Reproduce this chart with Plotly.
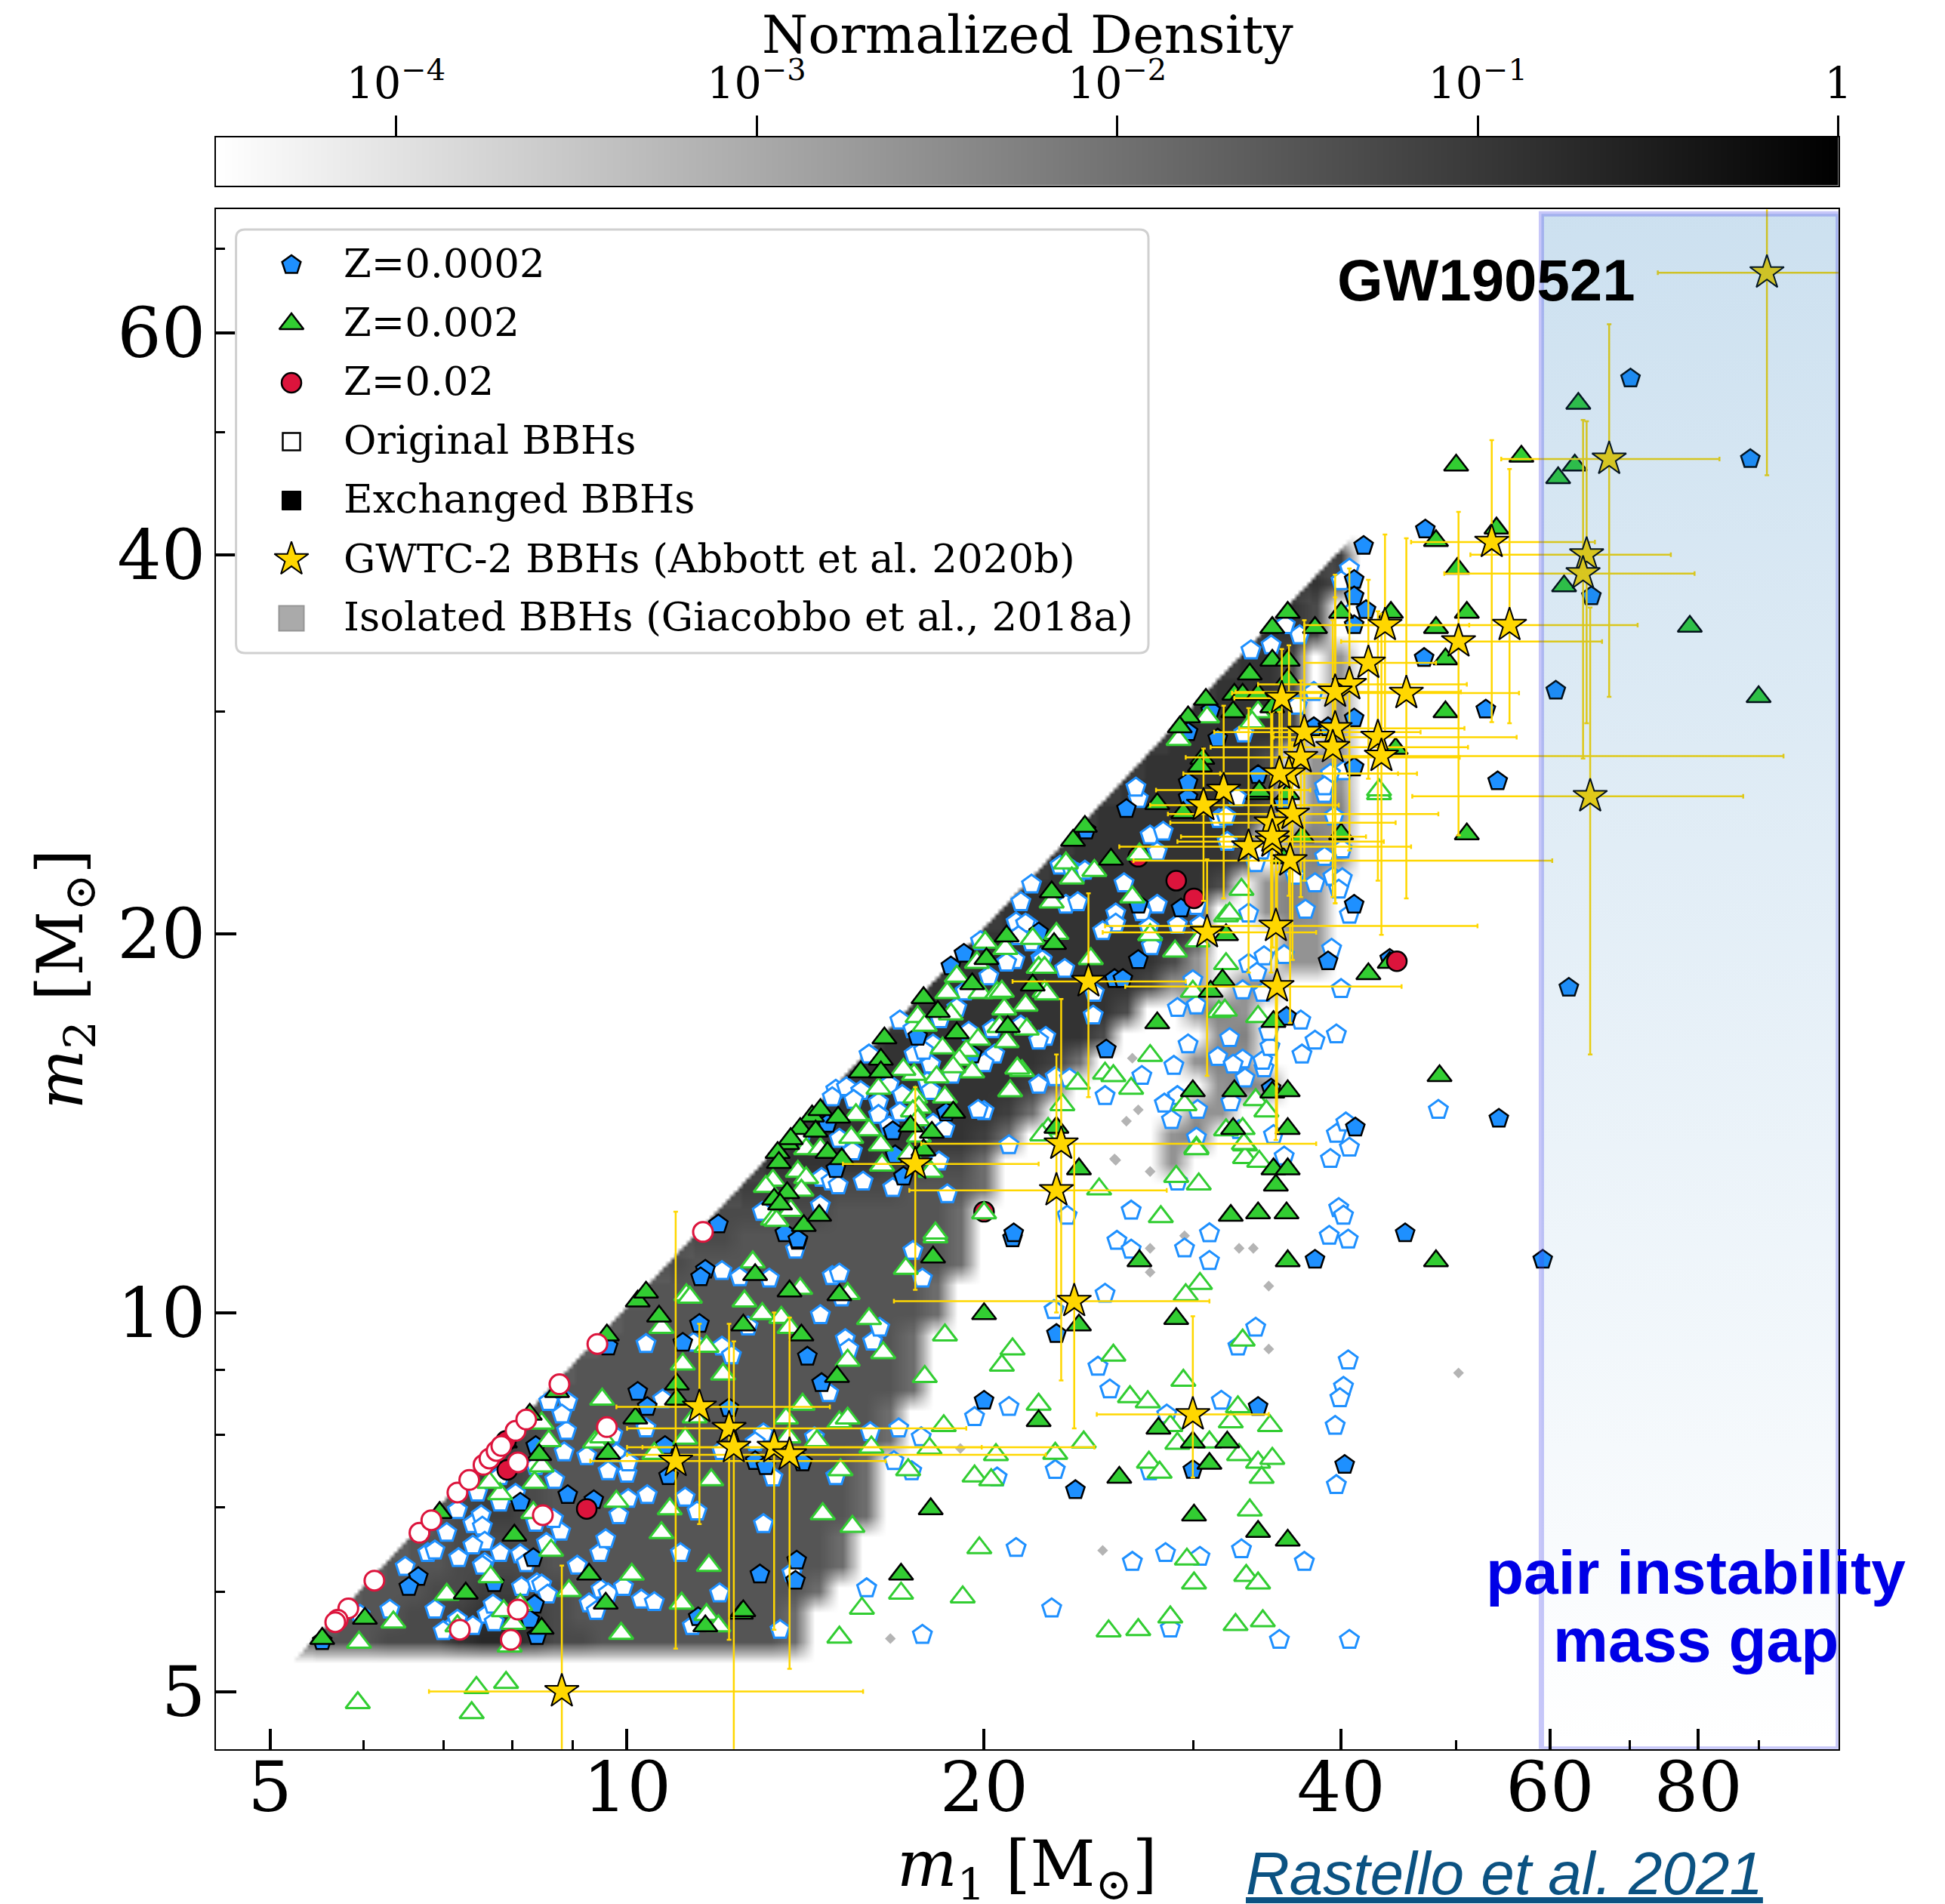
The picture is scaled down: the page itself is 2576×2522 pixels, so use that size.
import math
import numpy as np
import plotly.graph_objects as go

W, H = 2576, 2522
OFFSET = 8  # the page's own body margin
AX_L, AX_R, AX_T, AX_B = 285.7, 2434.7, 277.4, 2316.8
CB_T, CB_B = 181.8, 245.5

# All masses below are log10(mass / Msun): (log m1, log m2)
z0002_exchanged = [(.824,.790),(.816,.782),(.743,.739),(.984,.973),(1.066,1.034),(1.062,1.028),(1.061,.991),(1.047,.976),(1.009,.937),(1.017,.925),(1.032,.894),(1.035,.870),(.950,.855),(.972,.851),(.910,.849),(.921,.805),(.888,.785),(.922,.768),(.918,.756),(.924,.743),(.923,.894),(1.060,.758),(1.086,.924),
(1.144,1.057),(1.152,.965),(1.164,.944),(1.108,.882),(1.117,.878),(1.148,.881),(1.143,.803),(1.112,.792),(1.142,.787),(1.301,.930),(1.362,.983),(1.378,.859),(1.325,1.059),
(1.532,.925),(1.605,.879),(1.477,.875),(1.326,1.063),(1.580,1.042),(1.656,1.063),(1.772,1.042),
(1.421,1.400),(1.387,1.383),(1.473,1.409),(1.553,1.405),(1.431,1.324),(1.467,1.321),(1.347,1.302),(1.431,1.280),(1.411,1.265),(1.418,1.265),(1.404,1.209),(1.556,1.235),(1.591,1.279),(1.613,1.324),(1.543,1.178),(1.614,1.147),(1.643,1.281),
(1.284,1.285),(1.273,1.275),(1.245,1.219),(1.291,1.205),(1.169,1.150),(1.224,1.144),(1.269,1.159),(1.226,1.125),(1.176,1.114),(1.233,1.108),(1.133,1.063),(1.144,1.058),(1.077,1.070),
(1.621,1.609),(1.613,1.582),(1.613,1.569),(1.623,1.558),(1.613,1.546),(1.672,1.520),(1.579,1.465),(1.591,1.465),(1.613,1.472),(1.613,1.433),(1.532,1.427),(1.473,1.421),(1.498,1.456),(1.473,1.461),(1.492,1.478),(1.673,1.622),
(1.846,1.742),(1.947,1.678),(1.813,1.569),(1.783,1.494),(1.724,1.479),(1.735,1.154),(1.794,1.258),(1.734,1.422)]

z0002_original = [(.775,.760),(.800,.764),(.813,.798),(.832,.809),(.838,.811),(.848,.825),(.858,.805),(.857,.843),(.870,.832),(.877,.839),(.878,.830),(.880,.818),(.870,.815),(.893,.809),(.910,.808),(.915,.801),(.880,.801),(.878,.799),(.838,.764),(.849,.748),(.845,.747),(.857,.756),(.870,.751),(.882,.760),(.887,.768),(.888,.754),(.911,.782),(.924,.785),(.928,.784),(.933,.776),(.932,.817),(.944,.826),(.938,.836),(.923,.833),(.958,.799),(.977,.809),(.982,.820),(.968,.769),(.974,.763),(.978,.780),(.984,.777),(.997,.782),(1.012,.772),(1.023,.770),(.993,.839),(1.001,.852),(1.017,.855),(1.049,.853),(1.045,.809),(1.059,.842),(1.078,.777),(1.055,.751),(.984,.874),(1.000,.872),(.991,.888),(.988,.903),(.966,.886),(.947,.889),(.949,.906),(.939,.867),(.906,.856),(.893,.849),(.893,.870),(.934,.929),(.950,.929),(.945,.919),(1.030,.931),(1.016,.908),(1.080,1.033),(1.016,.975),(1.056,.976),(1.080,.973),(1.088,.966),(1.001,.881),(.923,.878),(.874,.857),
(1.095,1.028),(1.120,1.027),(1.173,1.029),(1.179,1.031),(1.241,1.049),(1.249,1.027),(1.142,1.050),(1.163,.998),(1.102,.989),(1.184,.979),(1.187,.971),(1.207,.977),(1.213,.988),(1.181,1.012),(1.170,.936),(1.115,.904),(1.108,.897),(1.158,.901),(1.205,.905),(1.229,.908),(1.248,.901),(1.225,.882),(1.240,.874),(1.176,.870),(1.123,.869),(1.080,.890),(1.115,.832),(1.139,.793),(1.202,.781),(1.249,.744),(1.129,.748),(1.328,.813),(1.358,.765),(1.426,.802),(1.454,.809),(1.312,.869),(1.361,.875),(1.441,.874),(1.293,.917),(1.322,.925),(1.407,.939),(1.397,.957),(1.403,1.015),(1.360,1.002),(1.413,1.057),(1.425,1.050),(1.455,.919),(1.458,.749),
(1.491,1.041),(1.530,.988),(1.515,.973),(1.501,.930),(1.608,.962),(1.604,.941),(1.601,.932),(1.597,.910),(1.598,.863),(1.483,.806),(1.518,.812),(1.571,.802),(1.550,.740),(1.609,.740),(1.470,1.051),(1.491,1.063),(1.600,1.083),(1.604,1.077),(1.592,1.061),(1.608,1.058),(1.554,1.124),(1.593,1.122),(1.609,1.131),(1.464,1.104),(1.425,1.081),(1.371,1.077),(1.322,1.133),(1.270,1.094),
(1.431,1.408),(1.441,1.379),(1.452,1.382),(1.447,1.366),(1.341,1.340),(1.365,1.355),(1.375,1.352),(1.380,1.349),(1.386,1.351),(1.419,1.341),(1.370,1.324),(1.380,1.326),(1.412,1.317),(1.412,1.309),(1.401,1.303),(1.434,1.318),(1.447,1.324),(1.440,1.306),(1.443,1.295),(1.442,1.291),(1.464,1.308),(1.480,1.323),(1.483,1.308),(1.332,1.326),(1.334,1.307),(1.338,1.308),(1.341,1.294),(1.349,1.281),(1.369,1.273),(1.394,1.254),(1.393,1.236),(1.353,1.219),(1.347,1.216),(1.361,1.187),(1.347,1.181),(1.373,1.186),(1.403,1.172),(1.434,1.188),(1.461,1.196),(1.464,1.242),(1.480,1.244),(1.477,1.264),(1.473,1.213),(1.498,1.203),(1.519,1.201),(1.511,1.197),(1.521,1.186),(1.537,1.194),(1.536,1.200),(1.542,1.211),(1.541,1.223),(1.508,1.218),(1.568,1.232),(1.569,1.205),(1.580,1.216),(1.598,1.221),(1.481,1.161),(1.464,1.172),(1.453,1.166),(1.459,1.153),(1.509,1.167),(1.480,1.139),(1.545,1.141),(1.516,1.145),(1.598,1.142),(1.606,1.151),(1.594,1.289),(1.602,1.257),(1.609,1.316),(1.595,1.346),(1.603,1.345),(1.600,1.336),(1.580,1.341),(1.572,1.320),(1.524,1.317),(1.519,1.256),(1.536,1.254),(1.524,1.277),(1.537,1.283),(1.531,1.270),(1.554,1.284),(1.588,1.362),(1.596,1.394),(1.506,1.374),(1.499,1.392),(1.505,1.394),(1.530,1.357),(1.603,1.368),(1.588,1.412),(1.514,1.409),(1.563,1.347),(1.535,1.367),
(1.298,1.295),(1.328,1.310),(1.336,1.309),(1.330,1.299),(1.327,1.280),(1.320,1.278),(1.350,1.280),(1.305,1.267),(1.285,1.255),(1.278,1.242),(1.264,1.233),(1.230,1.232),(1.241,1.225),(1.258,1.213),(1.332,1.228),(1.308,1.225),(1.310,1.205),(1.301,1.198),(1.288,1.223),(1.242,1.205),(1.256,1.197),(1.274,1.189),(1.250,1.208),(1.204,1.205),(1.221,1.181),(1.232,1.173),(1.253,1.183),(1.256,1.176),(1.176,1.177),(1.173,1.171),(1.185,1.179),(1.197,1.176),(1.191,1.169),(1.212,1.167),(1.212,1.157),(1.230,1.159),(1.258,1.150),(1.268,1.146),(1.221,1.148),(1.179,1.138),(1.190,1.128),(1.147,1.140),(1.263,1.120),(1.164,1.107),(1.172,1.104),(1.178,1.101),(1.199,1.104),(1.224,1.099),(1.114,1.080),(1.163,1.085),(1.301,1.160),(1.296,1.161),
(1.609,1.591),(1.602,1.581),(1.612,1.557),(1.567,1.538),(1.555,1.546),(1.543,1.530),(1.526,1.526),(1.429,1.417),(1.520,1.460),(1.579,1.493),(1.565,1.482),(1.604,1.430),(1.593,1.428),(1.588,1.418),(1.684,1.161)]

z002_exchanged = [(.743,.741),(.779,.757),(.842,.841),(.864,.777),(.968,.792),(.983,.982),(1.009,1.009),(1.016,1.016),(1.027,.997),(1.042,.943),(1.042,.931),(1.007,.916),(.941,.937),(.918,.919),(.897,.897),(.926,.887),(.984,.888),(.928,.749),(1.066,.751),(.982,.769),(.905,.823),(1.096,.761),
(1.108,1.030),(1.137,1.017),(1.179,1.014),(1.098,.990),(1.147,.982),(1.177,.949),(1.258,1.044),(1.432,1.041),(1.301,.999),(1.381,.990),(1.347,.914),(1.448,.908),(1.415,.869),(1.256,.844),(1.231,.792),(1.098,.763),
(1.477,.897),(1.491,.880),(1.506,.897),(1.478,.839),(1.532,.826),(1.557,.819),(1.463,.995),(1.509,1.077),(1.532,1.079),(1.556,1.079),(1.545,1.114),(1.557,1.114),(1.547,1.101),(1.557,1.041),(1.682,1.041),(1.381,1.114),
(1.386,1.386),(1.376,1.375),(1.408,1.360),(1.358,1.334),(1.360,1.293),(1.342,1.260),(1.447,1.404),(1.469,1.397),(1.532,1.412),(1.557,1.412),(1.505,1.300),(1.502,1.264),(1.492,1.255),(1.447,1.230),(1.477,1.176),(1.512,1.176),(1.544,1.175),(1.557,1.176),(1.511,1.146),(1.557,1.146),(1.362,1.147),(1.545,1.231),(1.625,1.269),(1.643,1.278),(1.569,1.378),(1.602,1.380),(1.553,1.361),
(1.250,1.250),(1.217,1.218),(1.197,1.191),(1.214,1.201),(1.214,1.191),(1.303,1.281),(1.320,1.299),(1.321,1.227),(1.278,1.222),(1.156,1.156),(1.163,1.161),(1.178,1.155),(1.146,1.146),(1.159,1.144),(1.135,1.134),(1.138,1.138),(1.127,1.127),(1.169,1.127),(1.181,1.122),(1.128,1.119),(1.135,1.095),(1.124,1.090),(1.129,1.086),(1.149,1.069),(1.162,1.077),(1.250,1.129),(1.239,1.148),(1.275,1.159),(1.257,1.143),(1.262,1.239),(1.291,1.261),
(1.557,1.556),(1.544,1.544),(1.580,1.544),(1.602,1.556),(1.644,1.556),(1.708,1.556),(1.682,1.544),(1.544,1.518),(1.557,1.518),(1.525,1.507),(1.512,1.491),(1.519,1.491),(1.532,1.491),(1.511,1.477),(1.557,1.503),(1.488,1.487),(1.473,1.473),(1.466,1.465),(1.485,1.440),(1.483,1.434),(1.533,1.414),(1.690,1.477),(1.690,1.519),(1.648,1.448),(1.682,1.613),(1.700,1.591),(1.708,1.380),(1.544,1.481),
(1.802,1.722),(1.699,1.673),(1.754,1.680),(1.799,1.673),(1.785,1.663),(1.733,1.623),(1.790,1.577),(1.896,1.545),(1.954,1.489),(1.685,1.188)]

z002_original = [(.774,.738),(.803,.754),(.848,.776),(.857,.751),(.885,.790),(.896,.763),(.904,.753),(.910,.768),(.901,.735),(1.004,.792),(.951,.779),(.995,.745),(1.029,.825),(1.036,.844),(.991,.850),(.893,.856),(.884,.865),(.922,.865),(.934,.898),(.928,.912),(.928,.878),(.973,.897),(.979,.931),(.979,.901),(1.029,.988),(1.050,1.014),(1.053,1.012),(1.047,.959),(1.067,.973),(1.081,.951),(1.049,.900),(1.023,.888),(1.071,.867),(1.069,.799),(1.046,.769),(1.067,.760),(1.077,.751),(.921,.841),(.936,.811),(1.057,.917),(.773,.690),(.873,.702),(.898,.706),(.869,.682),
(1.106,1.040),(1.099,1.009),(1.114,.999),(1.130,.996),(1.146,1.019),(1.137,.988),(1.186,1.015),(1.204,.995),(1.186,.962),(1.216,.968),(1.235,1.035),(1.260,1.060),(1.268,.982),(1.251,.949),(1.148,.927),(1.134,.916),(1.136,.901),(1.160,.898),(1.179,.913),(1.186,.916),(1.206,.893),(1.255,.892),(1.267,.910),(1.180,.875),(1.237,.875),(1.325,.971),(1.316,.958),(1.347,.927),(1.410,.966),(1.424,.933),(1.439,.929),(1.385,.897),(1.311,.887),(1.361,.888),(1.293,.870),(1.307,.867),(1.440,.881),(1.449,.873),(1.165,.840),(1.190,.830),(1.297,.813),(1.231,.777),(1.283,.774),(1.198,.765),(1.179,.742),(1.406,.747),(1.431,.748),(1.458,.758),(1.458,.910),
(1.483,1.023),(1.471,1.014),(1.519,.978),(1.469,.946),(1.515,.925),(1.509,.913),(1.542,.910),(1.516,.887),(1.491,.897),(1.464,.896),(1.532,.881),(1.544,.884),(1.535,.869),(1.525,.843),(1.472,.804),(1.478,.785),(1.522,.791),(1.532,.785),(1.513,.752),(1.536,.755),(1.480,1.131),(1.521,1.133),(1.521,1.123),(1.533,1.120),(1.482,1.102),(1.463,1.108),(1.450,1.076),(1.398,1.098),(1.301,1.079),(1.260,1.063),
(1.370,1.357),(1.394,1.351),(1.375,1.345),(1.432,1.364),(1.518,1.336),(1.505,1.315),(1.508,1.317),(1.426,1.330),(1.358,1.326),(1.362,1.301),(1.441,1.300),(1.462,1.287),(1.391,1.281),(1.342,1.297),(1.347,1.274),(1.352,1.274),(1.352,1.255),(1.354,1.253),(1.336,1.244),(1.481,1.295),(1.505,1.277),(1.477,1.255),(1.499,1.239),(1.504,1.240),(1.532,1.235),(1.337,1.225),(1.333,1.192),(1.380,1.182),(1.403,1.190),(1.410,1.188),(1.425,1.178),(1.441,1.204),(1.367,1.165),(1.355,1.146),(1.350,1.141),(1.470,1.165),(1.530,1.169),(1.539,1.160),(1.480,1.130),(1.520,1.134),(1.505,1.145),(1.519,1.146),(1.634,1.412),
(1.302,1.294),(1.319,1.289),(1.295,1.278),(1.278,1.267),(1.270,1.254),(1.298,1.254),(1.312,1.254),(1.316,1.255),(1.318,1.241),(1.273,1.237),(1.245,1.235),(1.251,1.228),(1.314,1.227),(1.320,1.215),(1.296,1.217),(1.266,1.210),(1.286,1.208),(1.280,1.201),(1.329,1.194),(1.323,1.176),(1.291,1.191),(1.275,1.195),(1.242,1.189),(1.261,1.187),(1.233,1.193),(1.212,1.178),(1.243,1.171),(1.268,1.171),(1.246,1.163),(1.241,1.160),(1.245,1.153),(1.193,1.157),(1.204,1.145),(1.189,1.139),(1.214,1.133),(1.246,1.140),(1.238,1.126),(1.215,1.117),(1.256,1.112),(1.151,1.130),(1.163,1.130),(1.144,1.112),(1.151,1.107),(1.123,1.105),(1.147,1.097),(1.117,1.100),(1.138,1.081),(1.123,1.074),(1.126,1.073),
(1.465,1.455),(1.489,1.473),(1.532,1.477),(1.527,1.469),(1.634,1.415)]

z02_exchanged_under = [(1.431,1.362),(1.301,1.080)]
z02_exchanged = [(.899,.875),(.966,.844),(1.463,1.343),(1.478,1.329),(1.649,1.279),(.898,.898)]

z02_original = [(.787,.787),(.765,.765),(.756,.756),(.754,.754),(.825,.825),(.835,.835),(.857,.857),(.867,.867),(.879,.879),(.884,.884),(.890,.890),(.894,.894),(.906,.906),(.915,.915),(.943,.943),(.908,.881),(.975,.975),(.983,.909),(.929,.839),(.859,.748),(.902,.740),(.908,.764),(1.064,1.064)]

# GWTC-2 events: log m1, log m2, and the ends of their error bars
star_m1    = [1.961,1.828,1.729,1.809,1.806,1.812,1.639,1.744,1.701,1.625,1.609,1.597,1.657,1.552,1.571,1.597,1.633,1.595,1.636,1.568,1.558,1.550,1.503,1.486,1.561,1.543,1.524,1.544,1.544,1.559,1.547,1.489,1.548,1.389,1.366,1.362,1.243,1.377,1.477,1.061,1.086,1.090,1.124,1.137,1.041,.945]
star_m2    = [1.826,1.678,1.612,1.602,1.587,1.410,1.546,1.546,1.533,1.516,1.499,1.493,1.492,1.488,1.461,1.464,1.457,1.449,1.442,1.441,1.428,1.428,1.415,1.403,1.396,1.389,1.370,1.374,1.378,1.359,1.307,1.302,1.259,1.263,1.134,1.097,1.118,1.009,.919,.925,.908,.893,.893,.887,.882,.699]
star_m1_lo = [1.869,1.737,1.661,1.711,1.689,1.662,1.571,1.610,1.602,1.571,1.532,1.513,1.51,1.512,1.495,1.516,1.545,1.492,1.56,1.471,1.469,1.50,1.446,1.441,1.456,1.458,1.415,1.464,1.467,1.427,1.403,1.401,1.420,1.325,1.248,1.238,1.182,1.225,1.396,.991,1.000,1.000,1.013,1.000,.969,.833]
star_m1_hi = [2.03,1.921,1.816,1.880,1.900,1.941,1.710,1.852,1.822,1.682,1.708,1.703,1.752,1.606,1.669,1.706,1.75,1.709,1.975,1.702,1.666,1.65,1.576,1.60,1.684,1.648,1.661,1.638,1.623,1.78,1.717,1.581,1.653,1.471,1.581,1.455,1.347,1.491,1.541,1.171,1.286,1.299,1.394,1.353,1.218,1.199]
star_m2_lo = [1.665,1.489,1.469,1.468,1.44,1.205,1.46,1.468,1.379,1.424,1.367,1.325,1.329,1.38,1.343,1.325,1.343,1.33,1.30,1.33,1.331,1.35,1.329,1.327,1.28,1.27,1.27,1.29,1.29,1.23,1.137,1.188,1.143,1.171,.946,1.000,1.018,.908,.869,.832,.740,.64,.748,.717,.733,.64]
star_m2_hi = [1.90,1.785,1.693,1.708,1.709,1.56,1.618,1.670,1.636,1.582,1.591,1.586,1.615,1.527,1.550,1.568,1.557,1.55,1.555,1.502,1.530,1.477,1.482,1.448,1.453,1.477,1.480,1.477,1.46,1.48,1.38,1.36,1.35,1.333,1.249,1.205,1.179,1.134,.997,.991,.991,.977,1.000,.996,1.080,.799]

# Isolated-binary density. Row n+1 of the list starts on the m1=m2 diagonal; each digit indexes density_levels.
density_levels = [-4.5,-2.6,-2.3,-1.9,-1.5,-1.3,-1.1,-.9,-.7,-.5]
density_rows = [
"444555788755444444443","44455677654444444443","44455665544444444443","44455554444444444443","4455554444444444443",
"4566544444444444443","566544444444444443","66544444444444443","65444444444444443","5444444444444443",
"4444444444444443","444444444444443","44444444444443","44444444444443","4444444444443",
"5444444444443","554444444443","55555444443","66665554443","777776655300000001",
"777777776300000012","777777776300000011","7777777763000000121","77777777630000121","7777777775000012",
"777777777500121","777777777511011","7777777775100011","777777777500011","77777777500121",
"7777777750121","7777777750121","777777750121","77777775012","7777775011",
"777775011","77777501","7777501","777501","77501",
"775","75","75","6"]
speck_log_m1 = [1.441,1.441,1.401,1.281,1.222,1.411,1.441,1.470,1.516,1.528,1.541,1.541,1.701,1.426,1.431,1.421,1.412]
speck_log_m2 = [1.051,1.032,.811,.892,.741,1.122,1.112,1.061,1.051,1.051,1.021,.971,.952,1.202,1.161,1.152,1.121]

colorbar_ticks = [-4,-3,-2,-1,0]
colorbar_text = ["10<sup>\u22124</sup>","10<sup>\u22123</sup>","10<sup>\u22122</sup>","10<sup>\u22121</sup>","1"]
x_major = [5,10,20,40,60,80]; x_minor = [6,7,8,9,30,50,70,90]
y_major = [5,10,20,40,60];    y_minor = [6,7,8,9,30,50,70]
legend_labels = ["Z=0.0002","Z=0.002","Z=0.02","Original BBHs","Exchanged BBHs","GWTC-2 BBHs (Abbott et al. 2020b)","Isolated BBHs (Giacobbo et al., 2018a)"]
gap_m1 = [59,105]; gap_m2 = [4.5,74.6]

BLUE,GREEN,RED,GOLD = "#1E90FF","#32CD32","#DC143C","#FFD700"
SERIF = "DejaVu Serif"; SANS = "Liberation Sans"
GRAYS = [[0,"#ffffff"],[1,"#000000"]]

def ax_x(p): return (p-AX_L)/(AX_R-AX_L)
def ax_y(p): return (AX_B-p)/(AX_B-AX_T)
def pap_x(p): return (p-OFFSET)/W
def pap_y(p): return 1-(p-OFFSET)/H

# density matrix: digits on a 0.02 dex grid, split finer and softened so edges stay straight and blurred
SPLIT = 6
n = 46
empty = density_levels[0]
coarse = np.full((n,n),empty)
for r,row in enumerate(density_rows):
    i = r+1
    for k,ch in enumerate(row):
        if i+k < n: coarse[i,i+k] = density_levels[int(ch)]
fine = np.kron(coarse,np.ones((SPLIT,SPLIT)))
N = fine.shape[0]
fine_log = [.72+.02*(k+.5)/SPLIT-.01 for k in range(N)]
jj,ii = np.meshgrid(np.arange(N),np.arange(N))
EDGE = 1
for r in range(N):
    c = r-EDGE
    if c > 0: fine[r,:c] = fine[r,min(c+EDGE,N-1)]
kernel = np.ones(5)/5
for a in (0,1):
    fine = np.apply_along_axis(lambda v: np.convolve(np.pad(v,2,mode="edge"),kernel,"valid"),a,fine)
fine[jj<ii-EDGE] = empty
grid = [10**v for v in fine_log]

fig = go.Figure()
fig.add_trace(go.Heatmap(x=grid,y=grid,z=np.round(fine,3).tolist(),zmin=-4.5,zmax=0,zsmooth="best",hoverinfo="skip",colorscale=GRAYS,showscale=False))
fig.add_trace(go.Scatter(x=[10**v for v in speck_log_m1],y=[10**v for v in speck_log_m2],mode="markers",hoverinfo="skip",
    marker=dict(symbol="diamond",size=11,color="#b4b4b4",line=dict(width=0)),showlegend=False))

def pts(name,data,symbol,size,fill,edge,lw):
    fig.add_trace(go.Scatter(x=[10**a for a,b in data],y=[10**b for a,b in data],mode="markers",name=name,
        marker=dict(symbol=symbol,size=size,color=fill,line=dict(color=edge,width=lw)),showlegend=False))

S_P,S_T,S_C,S_S = 26,28,26,34
pts("Z=0.0002 original",z0002_original,"pentagon",S_P,"white",BLUE,3)
pts("Z=0.0002 exchanged",z0002_exchanged,"pentagon",S_P,BLUE,"black",2.5)
pts("Z=0.02 exchanged",z02_exchanged_under,"circle",S_C,RED,"black",2.5)
pts("Z=0.002 original",z002_original,"triangle-up",S_T,"white",GREEN,3)
pts("Z=0.002 exchanged",z002_exchanged,"triangle-up",S_T,GREEN,"black",2.5)
pts("Z=0.02 exchanged",z02_exchanged,"circle",S_C,RED,"black",2.5)
pts("Z=0.02 original",z02_original,"circle",S_C,"white",RED,3)

m1 = np.power(10.0,star_m1); m2 = np.power(10.0,star_m2)
fig.add_trace(go.Scatter(x=m1,y=m2,mode="markers",name="GWTC-2 BBHs",showlegend=False,
    error_x=dict(type="data",symmetric=False,array=np.power(10.0,star_m1_hi)-m1,arrayminus=m1-np.power(10.0,star_m1_lo),color=GOLD,thickness=2.5,width=3),
    error_y=dict(type="data",symmetric=False,array=np.power(10.0,star_m2_hi)-m2,arrayminus=m2-np.power(10.0,star_m2_lo),color=GOLD,thickness=2.5,width=3),
    marker=dict(symbol="star",size=S_S,color=GOLD,line=dict(color="black",width=2))))

# pair-instability gap, laid over the points
fig.add_trace(go.Scatter(x=[gap_m1[0],gap_m1[1],gap_m1[1],gap_m1[0],gap_m1[0]],y=[gap_m2[0],gap_m2[0],gap_m2[1],gap_m2[1],gap_m2[0]],
    mode="lines",fill="toself",hoverinfo="skip",showlegend=False,cliponaxis=False,
    line=dict(color="rgba(70,70,235,0.3)",width=7),
    fillgradient=dict(type="vertical",colorscale=[[0,"rgba(25,116,185,0)"],[1,"rgba(25,116,185,0.22)"]])))

# colour scale strip on its own axes
ramp = np.linspace(-4.5,0,226)
fig.add_trace(go.Heatmap(x=ramp,y=[0,1],z=[ramp.tolist(),ramp.tolist()],zmin=-4.5,zmax=0,zsmooth="best",hoverinfo="skip",
    colorscale=GRAYS,showscale=False,xaxis="x3",yaxis="y3"))

# legend marks on an overlay axis
rows_y = [351,429,507,585,663,741,819]
leg_syms = [("pentagon",S_P,BLUE,"black",2.5),("triangle-up",S_T,GREEN,"black",2.5),("circle",S_C,RED,"black",2.5),
            ("square",23,"white","black",2.5),("square",25,"black","black",1),("star",S_S,GOLD,"black",2),("square",33,"#aaaaaa","#969696",2)]
for yy,(sym,sz,fc,ec,lw) in zip(rows_y,leg_syms):
    fig.add_trace(go.Scatter(x=[ax_x(386)],y=[ax_y(yy)],xaxis="x2",yaxis="y2",mode="markers",hoverinfo="skip",showlegend=False,
        marker=dict(symbol=sym,size=sz,color=fc,line=dict(color=ec,width=lw))))

ann = []
for yy,t in zip(rows_y,legend_labels):
    ann.append(dict(x=pap_x(453),y=pap_y(yy-2),xref="paper",yref="paper",text=t,showarrow=False,xanchor="left",yanchor="middle",
        font=dict(family=SERIF,size=53,color="black")))
ann += [
    dict(x=pap_x(1361),y=pap_y(46),xref="paper",yref="paper",text="Normalized Density",showarrow=False,xanchor="center",yanchor="middle",font=dict(family=SERIF,size=70,color="black")),
    dict(x=pap_x(1968),y=pap_y(371),xref="paper",yref="paper",text="<b>GW190521</b>",showarrow=False,xanchor="center",yanchor="middle",font=dict(family=SANS,size=78,color="black")),
    dict(x=pap_x(2246),y=pap_y(2082),xref="paper",yref="paper",text="<b>pair instability</b>",showarrow=False,xanchor="center",yanchor="middle",font=dict(family=SANS,size=82,color="#0000E6")),
    dict(x=pap_x(2246),y=pap_y(2172),xref="paper",yref="paper",text="<b>mass gap</b>",showarrow=False,xanchor="center",yanchor="middle",font=dict(family=SANS,size=82,color="#0000E6")),
    dict(x=pap_x(1992),y=pap_y(2481),xref="paper",yref="paper",text="<u><i>Rastello et al. 2021</i></u>",showarrow=False,xanchor="center",yanchor="middle",font=dict(family=SANS,size=80,color="#0B5282")),
]

def rr(x0,y0,x1,y1,c):
    X0,X1,Y0,Y1 = pap_x(x0),pap_x(x1),pap_y(y0),pap_y(y1)
    cx=c/W; cy=c/H
    return f"M{X0+cx},{Y0} L{X1-cx},{Y0} Q{X1},{Y0} {X1},{Y0-cy} L{X1},{Y1+cy} Q{X1},{Y1} {X1-cx},{Y1} L{X0+cx},{Y1} Q{X0},{Y1} {X0},{Y1+cy} L{X0},{Y0-cy} Q{X0},{Y0} {X0+cx},{Y0} Z"

axis_common = dict(type="log",showgrid=False,zeroline=False,showline=True,linecolor="black",linewidth=2,mirror=True,
    ticks="inside",ticklen=27,tickwidth=4,tickcolor="black",tickmode="array",
    tickfont=dict(family=SERIF,size=92,color="black"))
minor_ticks = dict(tickmode="array",ticks="inside",ticklen=12,tickwidth=3,tickcolor="black",showgrid=False)
fig.update_layout(
    width=W,height=H,paper_bgcolor="white",plot_bgcolor="white",showlegend=False,
    margin=dict(l=0,r=0,t=0,b=0,pad=0,autoexpand=False),
    xaxis=dict(axis_common,domain=[pap_x(AX_L),pap_x(AX_R)],anchor="y",range=[math.log10(4.5),math.log10(105)],tickvals=x_major,ticktext=[str(v) for v in x_major],
        minor=dict(minor_ticks,tickvals=x_minor),ticklabelstandoff=-30,
        title=dict(text="<i>m</i><sub>1</sub> [M<sub>\u2299</sub>]",standoff=38,font=dict(family=SERIF,size=84,color="black"))),
    yaxis=dict(axis_common,domain=[pap_y(AX_B),pap_y(AX_T)],anchor="x",range=[math.log10(4.5),math.log10(75.2)],tickvals=y_major,ticktext=[str(v) for v in y_major],
        minor=dict(minor_ticks,tickvals=y_minor),ticklabelstandoff=-7,
        title=dict(text="<i>m</i><sub>2</sub> [M<sub>\u2299</sub>]",standoff=18,font=dict(family=SERIF,size=84,color="black"))),
    xaxis2=dict(overlaying="x",anchor="y2",range=[0,1],visible=False,fixedrange=True),
    yaxis2=dict(overlaying="y",anchor="x2",range=[0,1],visible=False,fixedrange=True),
    xaxis3=dict(domain=[pap_x(AX_L),pap_x(AX_R)],anchor="y3",side="top",range=[-4.5,0],showgrid=False,zeroline=False,
        showline=True,linecolor="black",linewidth=2,mirror=True,ticks="outside",ticklen=27,tickwidth=3,tickcolor="black",
        tickmode="array",tickvals=colorbar_ticks,ticktext=colorbar_text,tickfont=dict(family=SERIF,size=57,color="black")),
    yaxis3=dict(domain=[pap_y(CB_B),pap_y(CB_T)],anchor="x3",range=[0,1],showgrid=False,zeroline=False,
        showline=True,linecolor="black",linewidth=2,mirror=True,ticks="",showticklabels=False),
    annotations=ann,
    shapes=[dict(type="path",xref="paper",yref="paper",path=rr(312.6,304,1521,865,12),fillcolor="rgba(0,0,0,0)",line=dict(color="#d0d0d0",width=3),layer="above")],
)
fig.write_html("out.html")
